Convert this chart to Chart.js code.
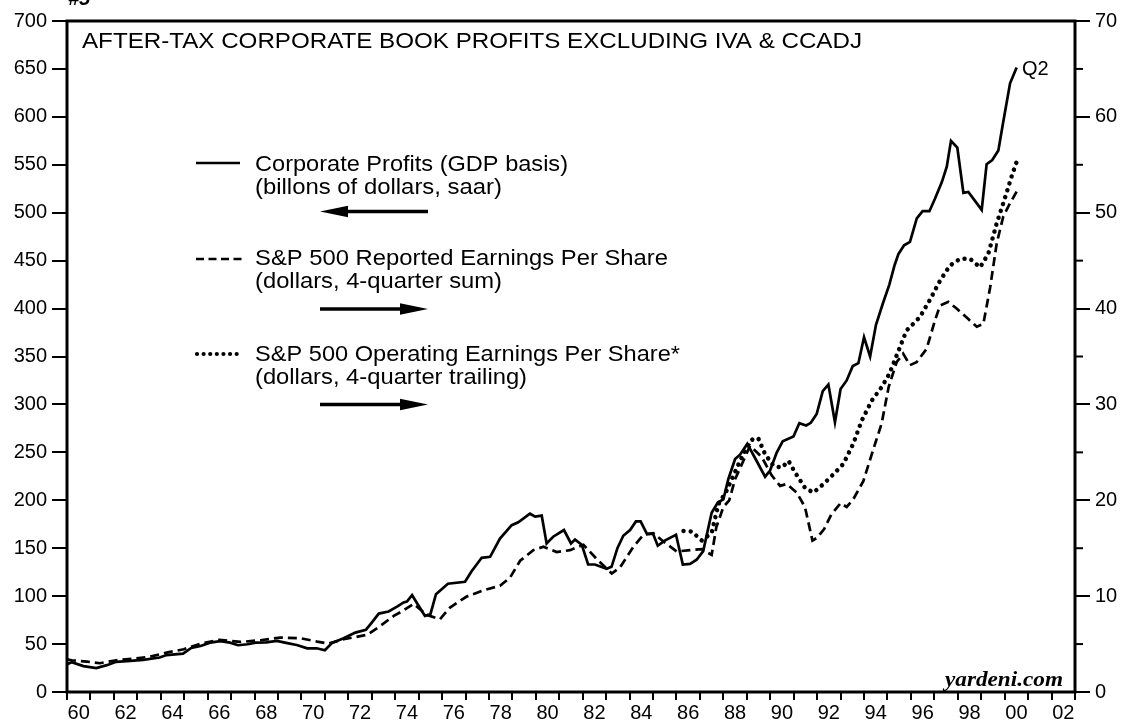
<!DOCTYPE html>
<html><head><meta charset="utf-8">
<script src="https://cdn.jsdelivr.net/npm/chart.js@4"></script>
<style>html,body{margin:0;padding:0;background:#fff;}#wrap{width:1122px;height:723px;}</style>
</head><body><div id="wrap"><canvas id="c" width="1122" height="723"></canvas></div>
<script>
// ---------- DATA ----------
const chartTitle = "AFTER-TAX CORPORATE BOOK PROFITS EXCLUDING IVA & CCADJ";
const legendText = [
  ["Corporate Profits (GDP basis)", "(billons of dollars, saar)"],
  ["S&P 500 Reported Earnings Per Share", "(dollars, 4-quarter sum)"],
  ["S&P 500 Operating Earnings Per Share*", "(dollars, 4-quarter trailing)"]
];
const leftTicks = [0,50,100,150,200,250,300,350,400,450,500,550,600,650,700];
const rightTicks = [0,10,20,30,40,50,60,70];

const profitYears = [1960.0,1960.2,1960.7,1961.25,1961.7,1962.1,1962.7,1963.25,1963.95,1964.25,1964.95,1965.3,1965.7,1966.1,1966.55,1966.95,1967.3,1967.7,1968.05,1968.5,1968.95,1969.4,1969.8,1970.25,1970.65,1971.0,1971.3,1971.8,1972.3,1972.75,1973.0,1973.3,1973.72,1974.08,1974.36,1974.5,1974.72,1975.27,1975.5,1975.74,1976.25,1976.98,1977.26,1977.69,1978.05,1978.47,1978.97,1979.25,1979.75,1979.97,1980.25,1980.46,1980.74,1981.2,1981.5,1981.67,1981.96,1982.23,1982.52,1983.02,1983.23,1983.48,1983.73,1984.02,1984.27,1984.47,1984.74,1985.0,1985.2,1985.5,1985.98,1986.27,1986.58,1986.86,1987.14,1987.5,1987.77,1988.0,1988.21,1988.5,1988.71,1989.02,1989.42,1989.78,1989.99,1990.28,1990.53,1990.99,1991.24,1991.53,1991.73,1991.98,1992.24,1992.48,1992.76,1993.0,1993.26,1993.52,1993.76,1994.0,1994.26,1994.51,1994.8,1995.08,1995.3,1995.47,1995.71,1995.96,1996.25,1996.5,1996.79,1997.03,1997.32,1997.53,1997.71,1997.98,1998.24,1998.45,1999.02,1999.23,1999.47,1999.73,1999.94,2000.23,2000.51];
const profitValues = [29,31,27,25,28,31.5,32.5,33.5,36,38.5,40,46,48,51.5,53,51.5,48.8,49.8,51.5,51.8,53.3,51,49,45.6,45.6,43.5,51,56,62,64.8,72.4,81.8,84,89,93.4,94.4,101,79.4,81,102,113,115,126,140,141,160,174,177,186,183,184,155,162,169,155,159,153.6,133,133,128.5,130.6,150,163,169,178,178,165,165,152.6,158,164,133,133.7,138,147,187,198,201,222,243,247.6,258.8,241,224.6,231,250,261.5,266.5,280.4,278,280.8,290,313.8,320.8,281.4,316,325,340,343,370,350,383,405,425,445,457,466,469.5,494,501.6,501.6,514.8,532,548,575,568,520.7,521.7,503,550.7,555,565,595,635,651.6];

const reportedYears = [1960.0,1960.2,1960.85,1961.4,1962.1,1962.85,1963.55,1964.25,1964.98,1965.7,1966.5,1967.4,1968.25,1969.1,1969.95,1970.67,1971.16,1971.8,1972.8,1973.37,1973.94,1974.2,1974.79,1975.34,1975.91,1976.34,1977.05,1977.76,1978.47,1978.9,1979.33,1979.89,1980.32,1980.89,1981.46,1982.03,1982.6,1983.24,1983.59,1984.16,1984.59,1985.01,1985.44,1986.01,1986.58,1987.08,1987.5,1987.7,1988.0,1988.25,1988.5,1988.85,1989.14,1989.64,1990.06,1990.42,1990.7,1991.13,1991.48,1991.8,1992.0,1992.3,1992.6,1993.0,1993.26,1993.54,1993.97,1994.33,1994.75,1995.05,1995.39,1995.67,1995.96,1996.24,1996.67,1997.03,1997.24,1997.6,1997.95,1998.45,1998.81,1999.09,1999.38,1999.66,1999.94,2000.23,2000.51];
const reportedValues = [3.4,3.31,3.17,3.0,3.31,3.48,3.69,4.11,4.46,5.05,5.43,5.22,5.4,5.68,5.61,5.26,5.05,5.5,5.96,6.9,7.94,8.29,9.2,8.05,7.6,8.81,9.96,10.6,11.08,11.94,13.69,14.8,15.15,14.6,14.8,15.36,13.86,12.36,12.99,15.15,16.4,16.58,15.7,14.66,14.8,14.9,14.3,17.2,19.3,20.0,22.2,24.1,25.7,24.5,22.6,21.5,21.7,20.8,19.3,15.8,16.1,17.0,18.5,19.7,19.3,20.1,22.0,24.8,28,31.8,34.4,35.3,34.1,34.4,35.8,38.8,40.3,40.7,40.0,38.9,38.1,38.4,42.2,46.8,49.6,51.0,52.2];

const operatingYears = [1986.3,1986.65,1987.08,1987.5,1987.79,1988.14,1988.43,1988.71,1989.07,1989.3,1989.5,1989.78,1990.14,1990.49,1990.78,1991.06,1991.48,1991.84,1992.27,1992.69,1993.12,1993.54,1993.9,1994.33,1994.75,1995.08,1995.39,1995.81,1996.38,1996.81,1997.24,1997.67,1998.1,1998.52,1998.95,1999.3,1999.66,2000.02,2000.31,2000.51];
const operatingValues = [16.8,16.75,15.8,16.6,19.6,21.0,22.6,24.1,25.9,26.5,26.4,24.8,23.6,23.4,24.1,22.9,21.3,20.8,21.7,22.7,23.8,25.9,28.3,30.4,31.8,33.2,35.1,37.7,39.1,40.9,42.9,44.5,45.2,45.2,44.3,45.7,48.9,51.6,53.9,55.3];

// ---------- CHART ----------
const SANS = "'Liberation Sans', Arial, Helvetica, sans-serif";
const SERIF = "'Liberation Serif', 'Times New Roman', serif";
Chart.defaults.font.family = SANS;
Chart.defaults.color = '#000';

function pts(xs, ys){ return xs.map((x,i)=>({x:x, y:ys[i]})); }

function fitText(ctx, text, x, y, font, width){
  ctx.font = font;
  const w = ctx.measureText(text).width;
  ctx.save();
  ctx.translate(x, y);
  if (width) ctx.scale(width / w, 1);
  ctx.fillText(text, 0, 0);
  ctx.restore();
}

function arrow(ctx, xTail, xTip, y){
  const dir = xTip > xTail ? 1 : -1;
  const headLen = 28, half = 5.8;
  ctx.beginPath();
  ctx.lineWidth = 3.4;
  ctx.moveTo(xTail, y);
  ctx.lineTo(xTip - dir*headLen*0.8, y);
  ctx.stroke();
  ctx.beginPath();
  ctx.moveTo(xTip, y);
  ctx.lineTo(xTip - dir*headLen, y - half);
  ctx.lineTo(xTip - dir*headLen, y + half);
  ctx.closePath();
  ctx.fill();
}

const decor = {
  id: 'decor',
  afterDraw(chart){
    const ctx = chart.ctx, ca = chart.chartArea;
    ctx.save();
    ctx.fillStyle = '#000'; ctx.strokeStyle = '#000';
    // frame
    ctx.lineWidth = 3;
    ctx.strokeRect(ca.left, ca.top, ca.right - ca.left, ca.bottom - ca.top);
    // right axis minor ticks
    const y2 = chart.scales.y2;
    ctx.lineWidth = 2;
    for (let v = 5; v < 70; v += 10){
      const py = y2.getPixelForValue(v);
      ctx.beginPath(); ctx.moveTo(ca.right, py); ctx.lineTo(ca.right + 8, py); ctx.stroke();
    }
    // texts
    ctx.textBaseline = 'alphabetic';
    ctx.textAlign = 'left';
    fitText(ctx, chartTitle, 82, 47.5, "22px " + SANS, 780);
    fitText(ctx, "#5", 68, 5, "italic bold 20px " + SANS);
    fitText(ctx, "Q2", 1022, 75, "20px " + SANS);
    fitText(ctx, "yardeni.com", 945, 686, "italic bold 21px " + SERIF, 118);

    // legend
    const lf = "22px " + SANS;
    const widths = [[313,247],[413,247],[425,272]];
    const base = [[170.5,193.5],[264.5,287.5],[361,383.5]];
    for (let i=0;i<3;i++){
      for (let j=0;j<2;j++){
        fitText(ctx, legendText[i][j], 255, base[i][j], lf, widths[i][j]);
      }
    }
    // samples
    ctx.lineWidth = 2.6;
    ctx.setLineDash([]);
    ctx.beginPath(); ctx.moveTo(196, 163); ctx.lineTo(240, 163); ctx.stroke();
    ctx.setLineDash([8,4.5]);
    ctx.beginPath(); ctx.moveTo(196, 259); ctx.lineTo(242, 259); ctx.stroke();
    ctx.setLineDash([0.01, 6.6]);
    ctx.lineCap = 'round'; ctx.lineWidth = 4.2;
    ctx.beginPath(); ctx.moveTo(197, 354); ctx.lineTo(240, 354); ctx.stroke();
    ctx.setLineDash([]); ctx.lineCap = 'butt';
    // arrows
    arrow(ctx, 428, 320, 211.5);
    arrow(ctx, 320, 428, 309);
    arrow(ctx, 320, 428, 404.5);
    ctx.restore();
  }
};

const isInt = v => Math.abs(v - Math.round(v)) < 1e-6;

new Chart(document.getElementById('c'), {
  type: 'line',
  data: {
    datasets: [
      { label: 'Corporate Profits', data: pts(profitYears, profitValues), yAxisID: 'y',
        borderColor: '#000', borderWidth: 2.7, pointRadius: 0, tension: 0, fill: false },
      { label: 'S&P 500 Reported EPS', data: pts(reportedYears, reportedValues), yAxisID: 'y2',
        borderColor: '#000', borderWidth: 2.7, borderDash: [9,5], pointRadius: 0, tension: 0, fill: false },
      { label: 'S&P 500 Operating EPS', data: pts(operatingYears, operatingValues), yAxisID: 'y2',
        borderColor: '#000', borderWidth: 4.5, borderDash: [0.01, 7.2], borderCapStyle: 'round', pointRadius: 0, tension: 0, fill: false }
    ]
  },
  options: {
    responsive: false,
    animation: false,
    layout: { padding: { top: 21, left: 0, right: 0, bottom: 0 } },
    plugins: { legend: { display: false }, tooltip: { enabled: false } },
    scales: {
      x: {
        type: 'linear', min: 1960, max: 2003,
        afterBuildTicks(s){ const t=[]; for (let v=1960; v<=2003.001; v+=0.5) t.push({value: v}); s.ticks = t; },
        afterFit(s){ s.height = 31; },
        ticks: {
          autoSkip: false, maxRotation: 0, minRotation: 0, padding: 1,
          font: { size: 20 }, color: '#000',
          callback(v){ const f = Math.floor(v); if (Math.abs(v - f - 0.5) < 1e-6 && f % 2 === 0) return String(f % 100).padStart(2,'0'); return ''; }
        },
        grid: {
          drawOnChartArea: false, drawTicks: true, tickLength: 8, lineWidth: 2,
          color: c => (c.tick && isInt(c.tick.value)) ? '#000' : 'rgba(0,0,0,0)',
          tickColor: c => (c.tick && isInt(c.tick.value)) ? '#000' : 'rgba(0,0,0,0)'
        },
        border: { display: false }
      },
      y: {
        position: 'left', min: 0, max: 700,
        afterBuildTicks(s){ s.ticks = leftTicks.map(v=>({value:v})); },
        afterFit(s){ s.width = 67; },
        ticks: { font: { size: 20 }, color: '#000', padding: 5 },
        grid: { drawOnChartArea: false, drawTicks: true, tickLength: 15, lineWidth: 2, color: '#000' },
        border: { display: false }
      },
      y2: {
        position: 'right', min: 0, max: 70,
        afterBuildTicks(s){ s.ticks = rightTicks.map(v=>({value:v})); },
        afterFit(s){ s.width = 47; },
        ticks: { font: { size: 20 }, color: '#000', padding: 5 },
        grid: { drawOnChartArea: false, drawTicks: true, tickLength: 15, lineWidth: 2, color: '#000' },
        border: { display: false }
      }
    }
  },
  plugins: [decor]
});
</script>
</body></html>
